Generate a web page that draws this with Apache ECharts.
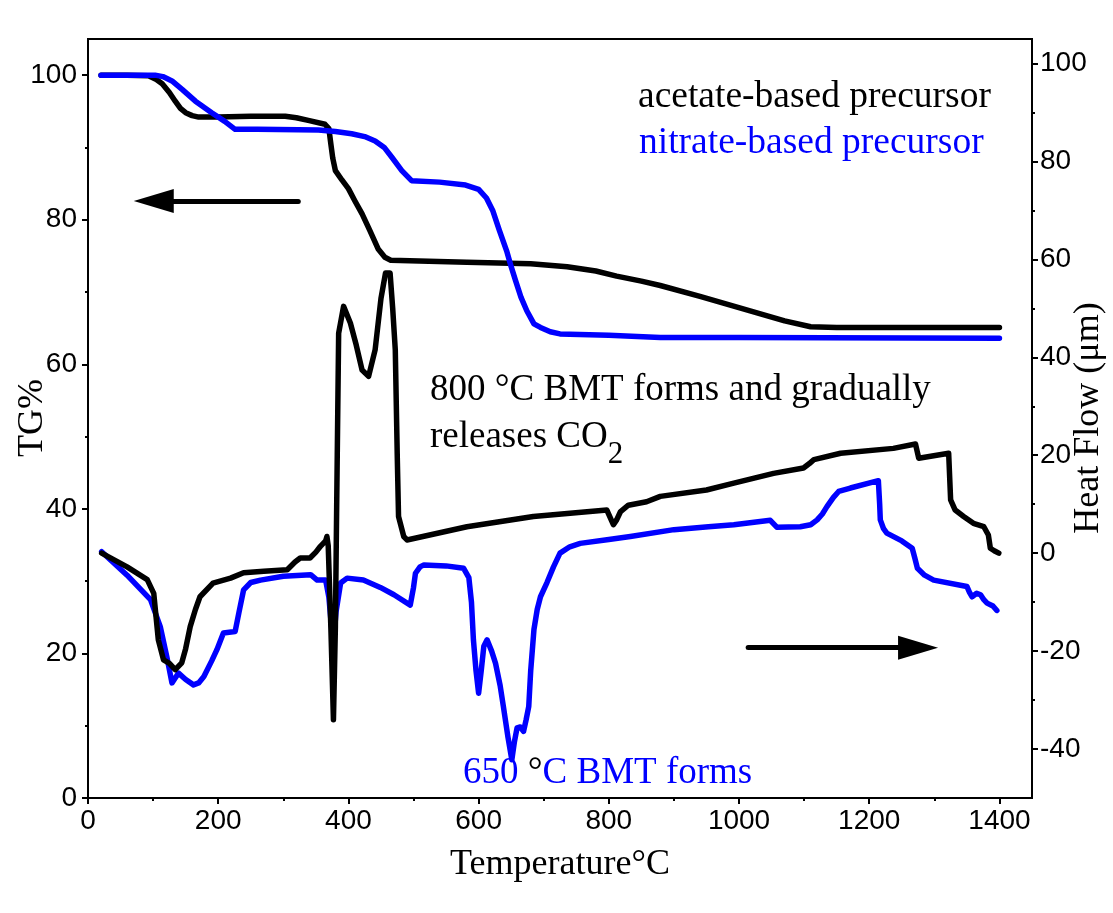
<!DOCTYPE html>
<html><head><meta charset="utf-8">
<script src="https://cdn.jsdelivr.net/npm/echarts@6/dist/echarts.min.js"></script>
<style>html,body{margin:0;padding:0;background:#fff}#c{width:1113px;height:913px}</style>
</head><body><div id="c"></div>
<script>
// Tick values
const xMajorTicks = [0,200,400,600,800,1000,1200,1400];
const xMinorTicks = [100,300,500,700,900,1100,1300];
const tgMajorTicks = [0,20,40,60,80,100];
const tgMinorTicks = [10,30,50,70,90];
const hfMajorTicks = [-40,-20,0,20,40,60,80,100];
const hfMinorTicks = [-30,-10,10,30,50,70,90];

// TG curves [T (°C), TG %]
const tgAcetate = [[20,100],[60,100],[93,99.9],[105,99.4],[114,98.8],[125,97.6],[134,96.4],[142,95.4],[150,94.8],[160,94.4],[170,94.2],[200,94.2],[250,94.3],[303,94.3],[320,94.1],[340,93.7],[364,93.2],[370,92.6],[373,90.5],[376,88.5],[380,86.8],[390,85.5],[400,84.3],[410,82.6],[421,80.8],[433,78.5],[446,75.9],[456,74.8],[465,74.4],[582,74.1],[680,73.9],[736,73.5],[780,72.9],[812,72.2],[850,71.5],[879,70.9],[940,69.4],[1017,67.4],[1070,66.0],[1110,65.2],[1150,65.1],[1400,65.1]];
const tgNitrate = [[20,100],[103,100],[115,99.8],[129,99.2],[145,98],[165,96.4],[190,94.8],[210,93.6],[226,92.5],[260,92.5],[354,92.4],[380,92.2],[405,91.9],[425,91.5],[441,90.9],[455,90],[467,88.6],[482,86.8],[497,85.4],[540,85.2],[580,84.8],[600,84.2],[612,83],[622,81.2],[632,78.5],[643,75.7],[650,73.5],[657,71.5],[665,69.3],[674,67.4],[685,65.6],[695,65.1],[710,64.5],[725,64.2],[800,64.0],[879,63.7],[1000,63.7],[1400,63.6]];

// Heat flow curves [T (°C), Heat Flow (μm)]
const hfAcetate = [[21,0],[60,-2.8],[91,-5.4],[101,-8.2],[108,-17.7],[116,-21.8],[125,-22.5],[134,-23.8],[144,-22.4],[150,-19.5],[157,-15],[165,-11.5],[172,-8.9],[192,-6.1],[219,-5.1],[239,-4.0],[270,-3.7],[306,-3.4],[318,-1.8],[326,-1.0],[341,-1.0],[350,0.2],[357,1.4],[365,2.5],[367,3.4],[369,1.5],[373,-15],[377,-34],[380,-15],[382,10],[385,44.9],[392.6,50.4],[403,47],[412,42.5],[421,37.4],[431,36.1],[441,41.5],[450,52],[457,57.2],[464,57.2],[468,50],[472,41.5],[475,20],[477,7.5],[485,3.4],[490,2.7],[582,5.4],[684,7.5],[797,8.8],[803,7],[807,5.8],[812,6.8],[818,8.5],[830,9.8],[858,10.5],[879,11.6],[950,12.9],[992,14.3],[1053,16.3],[1099,17.4],[1108,18.3],[1115,19.1],[1156,20.4],[1237,21.4],[1271,22.3],[1276,19.4],[1322,20.4],[1325,10.9],[1332,8.8],[1345,7.5],[1360,6.1],[1376,5.4],[1383,3.7],[1386,1.0],[1392,0.5],[1399,0]];
const hfNitrate = [[21,0.3],[60,-4.5],[96,-9.5],[111,-15],[121,-21.1],[129,-26.5],[134,-25.5],[139,-24.5],[150,-25.8],[162,-26.9],[170,-26.5],[178,-25.2],[190,-22],[198,-19.7],[208,-16.3],[226,-16],[232,-12],[239,-7.5],[250,-6],[265,-5.5],[300,-4.7],[342,-4.4],[352,-5.5],[365,-5.5],[370,-9],[374,-15],[377,-18.4],[381,-12],[388,-6.1],[398,-5.1],[423,-5.5],[449,-7.0],[470,-8.5],[495,-10.6],[500,-7],[503,-4.1],[510,-2.8],[516,-2.4],[550,-2.6],[577,-3.1],[585,-5],[589,-10],[592,-17.7],[596,-24],[600,-28.6],[604,-24],[608,-19],[613,-17.7],[620,-20],[626,-22.5],[633,-27],[638,-31.3],[645,-37.5],[651,-42.2],[655,-38.5],[659,-35.7],[664,-35.5],[669,-36.4],[673,-34],[677,-31.3],[680,-24],[685,-15.6],[690,-11.5],[695,-8.9],[705,-6],[715,-2.8],[725,0],[740,1.3],[756,2.0],[800,2.8],[833,3.4],[900,4.8],[953,5.4],[992,5.8],[1048,6.7],[1058,5.3],[1094,5.4],[1110,5.8],[1120,6.8],[1128,8],[1135,9.5],[1145,11.4],[1153,12.6],[1171,13.3],[1214,14.8],[1216,10],[1217,6.8],[1222,5],[1227,4.1],[1250,2.5],[1266,1.0],[1270,-1],[1274,-3.1],[1285,-4.5],[1299,-5.5],[1350,-6.8],[1354,-8],[1358,-8.9],[1365,-8.2],[1371,-8.5],[1376,-9.5],[1381,-10.2],[1390,-10.8],[1396,-11.7]];

// Arrow annotations (data coordinates)
const tgArrow = [[323, 82.6], [101, 82.6]];
const hfArrow = [[1014, -19.3], [1275, -19.3]];

const BLACK = '#000000', BLUE = '#0000ff';
const SANS = '"Liberation Sans", Arial, sans-serif';
const SERIF = '"Liberation Serif", "Times New Roman", serif';

const chart = echarts.init(document.getElementById('c'), null, {renderer: 'canvas'});

function baseAxisLine(){ return {show:true, onZero:false, lineStyle:{color:BLACK, width:2}}; }
function minorAxis(pos, min, max, ticks){
  return {type:'value', position:pos, min:min, max:max,
    axisLine:{show:false, onZero:false}, splitLine:{show:false}, axisLabel:{show:false},
    axisTick:{show:true, length:3, customValues:ticks, lineStyle:{color:BLACK, width:2}}};
}
const plain = v => String(v);

const triPath = 'path://M0,0 L10,20 L-10,20 Z';

const ANN = 37, LEG = 37.5, TITLE = 36;
const ctx = document.createElement('canvas').getContext('2d');
ctx.font = ANN + 'px ' + SERIF;
const coWidth = ctx.measureText('releases CO').width;

const option = {
  animation: false,
  backgroundColor: '#ffffff',
  grid: {left:88, right:81, top:39, bottom:115, containLabel:false, outerBoundsMode:'none',
         show:true, borderColor:BLACK, borderWidth:2, backgroundColor:'transparent'},
  xAxis: [
    {type:'value', position:'bottom', min:0, max:1450,
     axisLine: baseAxisLine(),
     axisTick:{show:true, length:6, customValues:xMajorTicks, lineStyle:{color:BLACK, width:2}},
     axisLabel:{customValues:xMajorTicks, formatter:plain, color:BLACK, fontSize:28, fontFamily:SANS, margin:9},
     splitLine:{show:false},
     name:'Temperature°C', nameLocation:'middle', nameGap:49,
     nameTextStyle:{color:BLACK, fontSize:TITLE, fontFamily:SERIF}},
    minorAxis('bottom',0,1450,xMinorTicks)
  ],
  yAxis: [
    {type:'value', position:'left', min:0, max:105,
     axisLine: baseAxisLine(),
     axisTick:{show:true, length:6, customValues:tgMajorTicks, lineStyle:{color:BLACK, width:2}},
     axisLabel:{customValues:tgMajorTicks, formatter:plain, color:BLACK, fontSize:28, fontFamily:SANS, margin:11},
     splitLine:{show:false}},
    {type:'value', position:'right', min:-50, max:105,
     axisLine: baseAxisLine(),
     axisTick:{show:true, length:6, customValues:hfMajorTicks, lineStyle:{color:BLACK, width:2}},
     axisLabel:{customValues:hfMajorTicks, formatter:plain, color:BLACK, fontSize:28, fontFamily:SANS, margin:8},
     splitLine:{show:false}},
    minorAxis('left',0,105,tgMinorTicks),
    minorAxis('right',-50,105,hfMinorTicks)
  ],
  series: [
    {type:'line', name:'acetate TG', data:tgAcetate, xAxisIndex:0, yAxisIndex:0, showSymbol:false, symbol:'none',
     lineStyle:{color:BLACK, width:5.5, join:'round', cap:'round'}},
    {type:'line', name:'nitrate TG', data:tgNitrate, xAxisIndex:0, yAxisIndex:0, showSymbol:false, symbol:'none',
     lineStyle:{color:BLUE, width:5.5, join:'round', cap:'round'}},
    {type:'line', name:'nitrate HF', data:hfNitrate, xAxisIndex:0, yAxisIndex:1, showSymbol:false, symbol:'none',
     lineStyle:{color:BLUE, width:5.5, join:'round', cap:'round'}},
    {type:'line', name:'acetate HF', data:hfAcetate, xAxisIndex:0, yAxisIndex:1, showSymbol:false, symbol:'none',
     lineStyle:{color:BLACK, width:5.5, join:'round', cap:'round'}},
    {type:'line', data:[], xAxisIndex:0, yAxisIndex:0, silent:true,
     markLine:{silent:true, symbol:['none', triPath], symbolSize:[24,40], label:{show:false},
       lineStyle:{color:BLACK, width:5, type:'solid', cap:'round'}, itemStyle:{color:BLACK},
       emphasis:{disabled:true},
       data:[[{coord:tgArrow[0]},{coord:tgArrow[1]}]]}},
    {type:'line', data:[], xAxisIndex:0, yAxisIndex:1, silent:true,
     markLine:{silent:true, symbol:['none', triPath], symbolSize:[24,40], label:{show:false},
       lineStyle:{color:BLACK, width:5, type:'solid', cap:'round'}, itemStyle:{color:BLACK},
       emphasis:{disabled:true},
       data:[[{coord:hfArrow[0]},{coord:hfArrow[1]}]]}}
  ],
  graphic: [
    {type:'text', x:33, y:418, rotation:Math.PI/2, style:{text:'TG%', font:TITLE+'px '+SERIF, fill:BLACK, align:'center', verticalAlign:'middle'}},
    {type:'text', x:1089, y:418, rotation:Math.PI/2, style:{text:'Heat Flow (μm)', font:TITLE+'px '+SERIF, fill:BLACK, align:'center', verticalAlign:'middle'}},
    {type:'text', x:638, y:97, style:{text:'acetate-based precursor', font:LEG+'px '+SERIF, fill:BLACK, verticalAlign:'middle'}},
    {type:'text', x:639, y:143, style:{text:'nitrate-based precursor', font:LEG+'px '+SERIF, fill:BLUE, verticalAlign:'middle'}},
    {type:'text', x:430, y:390, style:{text:'800 °C BMT forms and gradually', font:ANN+'px '+SERIF, fill:BLACK, verticalAlign:'middle'}},
    {type:'text', x:430, y:437, style:{text:'releases CO', font:ANN+'px '+SERIF, fill:BLACK, verticalAlign:'middle'}},
    {type:'text', x:430 + coWidth, y:455, style:{text:'2', font:'31px '+SERIF, fill:BLACK, verticalAlign:'middle'}},
    {type:'text', x:463, y:773, style:{text:'{b|650 }{k|°}{b|C BMT forms}', font:ANN+'px '+SERIF, verticalAlign:'middle',
      rich:{b:{fill:BLUE, font:ANN+'px '+SERIF}, k:{fill:BLACK, font:ANN+'px '+SERIF}}}}
  ]
};
chart.setOption(option);
</script></body></html>
